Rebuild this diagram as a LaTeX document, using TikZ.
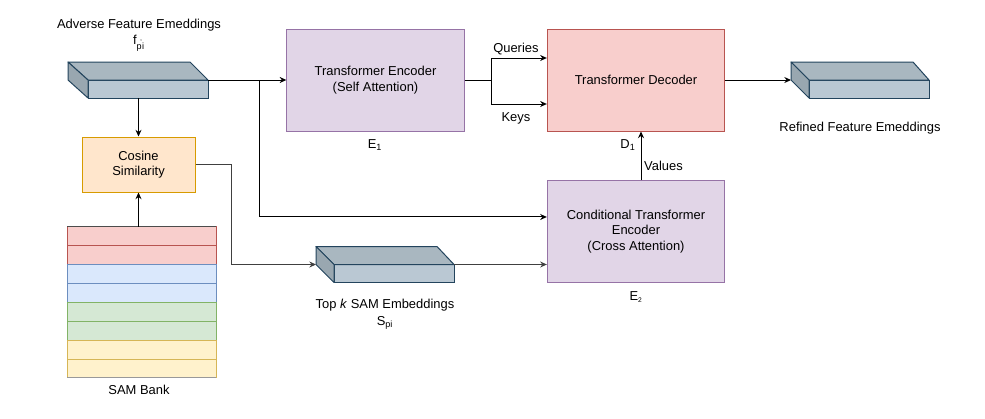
\documentclass[tikz,border=0pt]{standalone}
\usepackage{fontspec}
\setmainfont{Liberation Sans}
\usetikzlibrary{arrows.meta,positioning}

\definecolor{encfill}{HTML}{E1D5E7}
\definecolor{encline}{HTML}{9673A6}
\definecolor{decfill}{HTML}{F8CECC}
\definecolor{decline}{HTML}{B85450}
\definecolor{cosfill}{HTML}{FFE6CC}
\definecolor{cosline}{HTML}{D79B00}
\definecolor{bluefill}{HTML}{DAE8FC}
\definecolor{blueline}{HTML}{6C8EBF}
\definecolor{greenfill}{HTML}{D5E8D4}
\definecolor{greenline}{HTML}{82B366}
\definecolor{yellowfill}{HTML}{FFF2CC}
\definecolor{yellowline}{HTML}{D6B656}
\definecolor{cubefront}{HTML}{BAC8D3}
\definecolor{cubetop}{HTML}{A9B7C0}
\definecolor{cubeside}{HTML}{99A7B0}
\definecolor{cubeline}{HTML}{23445D}

\begin{document}
\begin{tikzpicture}[x=0.75pt, y=-0.75pt, font=\fontsize{9.7}{11.7}\selectfont,
    box/.style={draw, line width=0.75pt, align=center, minimum width=133pt, minimum height=76.5pt},
    cube/.style={draw=cubeline, fill=cubefront, line width=0.75pt, outer sep=0pt, minimum width=90pt, minimum height=13.5pt, inner sep=0pt},
    face/.style={draw=cubeline, line width=0.75pt, line join=round},
    bankrow/.style={draw, line width=0.75pt, outer sep=0pt, minimum width=111.75pt, minimum height=14.15pt, inner sep=0pt},
    arr/.style={-{Stealth[length=5pt,width=4.5pt]}, line width=0.75pt},
    lbl/.style={inner sep=1pt}]
    \useasboundingbox (0,0) rectangle (985,418);

    % embedding blocks
    \node[cube] (fpi) at (148,89) {};
    \filldraw[face, fill=cubetop] (fpi.north west) -- ++(-20,-18) -- ++(122,0) -- (fpi.north east) -- cycle;
    \filldraw[face, fill=cubeside] (fpi.north west) -- ++(-20,-18) -- ++(0,18) -- (fpi.south west) -- cycle;
    \node[lbl] (fpilabel) at (139,25) {Adverse Feature Emeddings};
    \node[lbl] (fpiname) at (139,43) {f\textsubscript{p\kern-0.3ex\raisebox{1.1ex}{\tiny'}\kern0.1ex i}};

    \node[cube] (refined) at (869,89) {};
    \filldraw[face, fill=cubetop] (refined.north west) -- ++(-18,-18) -- ++(122,0) -- (refined.north east) -- cycle;
    \filldraw[face, fill=cubeside] (refined.north west) -- ++(-18,-18) -- ++(0,18) -- (refined.south west) -- cycle;
    \coordinate (refin) at ([xshift=-13.5pt]refined.north west);
    \node[lbl] (refinedlabel) at (860,128) {Refined Feature Emeddings};

    \node[cube] (topk) at (394,273.5) {};
    \filldraw[face, fill=cubetop] (topk.north west) -- ++(-18,-18) -- ++(121,0) -- (topk.north east) -- cycle;
    \filldraw[face, fill=cubeside] (topk.north west) -- ++(-18,-18) -- ++(0,18) -- (topk.south west) -- cycle;
    \coordinate (topkin) at ([xshift=-13.5pt]topk.north west);
    \node[lbl] (topklabel) at (385,305) {Top \textit{k} SAM Embeddings};
    \node[lbl] (topkname) at (385,323) {S\textsubscript{pi}};

    % blocks
    \node[box, fill=encfill, draw=encline] (enc) at (375.5,80) {Transformer Encoder\\(Self Attention)};
    \node[lbl] (encname) at (375,145) {E\textsubscript{1}};
    \node[box, fill=decfill, draw=decline] (dec) at (636,80) {Transformer Decoder};
    \node[lbl] (decname) at (628,145) {D\textsubscript{1}};
    \node[box, fill=encfill, draw=encline] (cond) at (636,231.5) {Conditional Transformer\\Encoder\\(Cross Attention)};
    \node[lbl] (condname) at (636,297) {E\textsubscript{\tiny 2}};
    \node[draw=cosline, fill=cosfill, line width=0.75pt, align=center, minimum width=84.75pt, minimum height=41.25pt] (cos) at (138.5,164.5) {Cosine\\Similarity};

    % SAM bank
    \foreach \i/\c in {0/dec, 1/dec, 2/blue, 3/blue, 4/green, 5/green, 6/yellow, 7/yellow}
      \node[bankrow, fill=\c fill, draw=\c line] (bank\i) at (141.5,236.4+18.875*\i) {};
    \draw[line width=0.75pt, black!70] (bank0.north west) -- (bank0.north east);
    \draw[line width=0.75pt, black!40] (bank7.south west) -- (bank7.south east);
    \node[lbl] (bankname) at (139,390) {SAM Bank};

    % connectors
    \draw[arr] (fpi.north east) -- (enc.west);
    \coordinate (split) at (259,80);
    \draw[arr] (split) |- ([yshift=10.9pt]cond.west);
    \draw[arr] (cos.north |- fpi.south) -- (cos.north);
    \draw[arr] (cos.south |- bank0.north) -- (cos.south);
    \draw[arr, black!75] (cos.east) -- ++(36,0) |- (topkin);
    \draw[arr, black!75] (topk.north east) -- (topk.north east -| cond.west);
    \draw (enc.east) -- ++(27,0) coordinate (fork);
    \draw[arr] (fork) |- ([yshift=16.5pt]dec.west) node[lbl, pos=0.72, above=1pt] (queries) {Queries};
    \draw[arr] (fork) |- ([yshift=-18pt]dec.west) node[lbl, pos=0.72, below=5pt] (keys) {Keys};
    \draw[arr] (dec.east) -- (refin);
    \draw[arr] ([xshift=3.75pt]cond.north) -- ([xshift=3.75pt]dec.south) node[lbl, pos=0.3, right=1pt] (values) {Values};
\end{tikzpicture}
\end{document}
